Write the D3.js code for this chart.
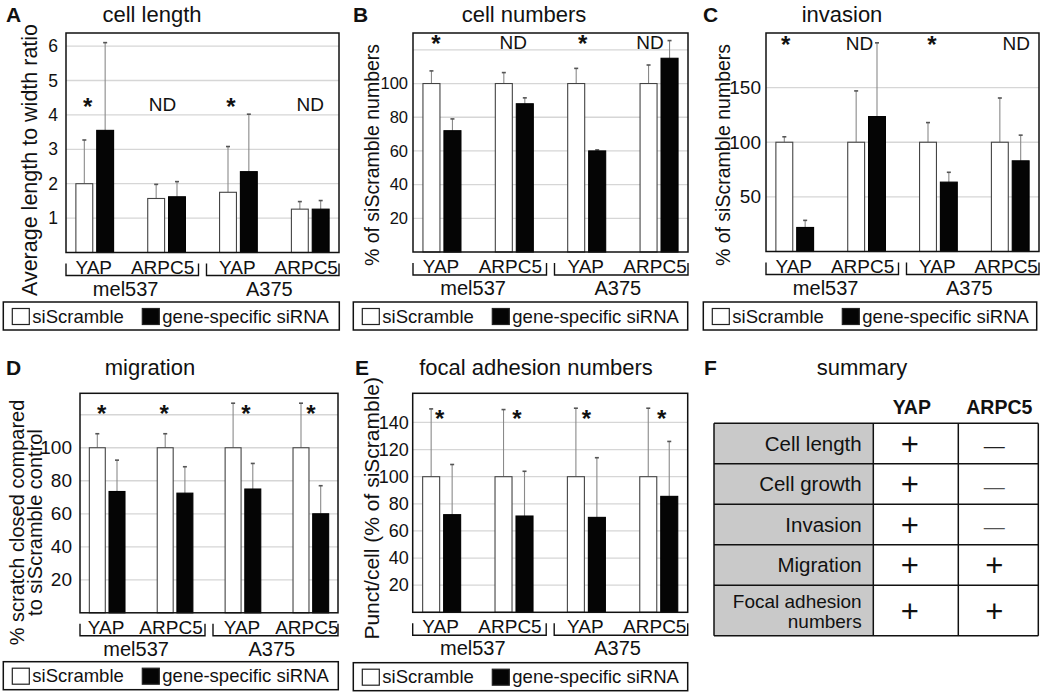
<!DOCTYPE html>
<html><head><meta charset="utf-8">
<script src="https://cdn.jsdelivr.net/npm/d3@7"></script>
<style>
body{margin:0;background:#fff}
svg{display:block;font-family:"Liberation Sans",Arial,Helvetica,sans-serif}
</style>
</head><body>
<svg id="fig" width="1044" height="696"></svg>
<script>
// ---------------- DATA ----------------
const groupLabels = ["YAP", "ARPC5", "YAP", "ARPC5"];
const cellLines = ["mel537", "A375"];
const seriesNames = ["siScramble", "gene-specific siRNA"];

// A: cell length
const lengthScramble = [2.0, 1.57, 1.75, 1.26];
const lengthScrambleErr = [3.27, 1.98, 3.08, 1.48];
const lengthSpecific = [3.55, 1.62, 2.35, 1.26];
const lengthSpecificErr = [6.1, 2.06, 4.02, 1.51];
const lengthMarks = ["*", "ND", "*", "ND"];
const lengthTicks = [1, 2, 3, 4, 5, 6];
const lengthGrid = [1, 2, 3, 4, 5, 6];

// B: cell numbers
const numbersScramble = [100, 100, 100, 100];
const numbersScrambleErr = [107.5, 106.5, 109, 111];
const numbersSpecific = [72, 88, 60, 115];
const numbersSpecificErr = [79, 91.5, 60.6, 125.5];
const numbersMarks = ["*", "ND", "*", "ND"];
const numbersTicks = [20, 40, 60, 80, 100];
const numbersGrid = [20, 40, 60, 80, 100, 120];

// C: invasion
const invasionScramble = [100, 100, 100, 100];
const invasionScrambleErr = [105, 147, 118, 140.5];
const invasionSpecific = [22, 123.5, 63.5, 83];
const invasionSpecificErr = [28.5, 191, 72.5, 106.5];
const invasionMarks = ["*", "ND", "*", "ND"];
const invasionTicks = [50, 100, 150];
const invasionGrid = [50, 100, 150];

// D: migration
const migrationScramble = [100, 100, 100, 100];
const migrationScrambleErr = [108.5, 108.5, 127, 127];
const migrationSpecific = [73.5, 72.5, 75, 60];
const migrationSpecificErr = [92.5, 88.5, 90.5, 77];
const migrationMarks = ["*", "*", "*", "*"];
const migrationTicks = [20, 40, 60, 80, 100];
const migrationGrid = [20, 40, 60, 80, 100, 120];

// E: focal adhesion numbers
const focalScramble = [100, 100, 100, 100];
const focalScrambleErr = [150, 149.5, 150.5, 150.5];
const focalSpecific = [72, 71, 70, 85.5];
const focalSpecificErr = [109, 104, 114, 126];
const focalMarks = ["*", "*", "*", "*"];
const focalTicks = [20, 40, 60, 80, 100, 120, 140];
const focalGrid = [20, 40, 60, 80, 100, 120, 140];

// F: summary
const summaryCols = ["YAP", "ARPC5"];
const summaryRows = [["Cell length"], ["Cell growth"], ["Invasion"], ["Migration"], ["Focal adhesion", "numbers"]];
const summaryYAP = ["+", "+", "+", "+", "+"];
const summaryARPC5 = ["—", "—", "—", "+", "+"];

// ---------------- LAYOUT ----------------
const FONT = '"Liberation Sans",Arial,Helvetica,sans-serif';
const panels = [
  {letter:"A", lx:6, title:"cell length", tx:152, ty:22, left:66, right:339, top:33, bottom:252.5, max:6.38,
   s0:lengthScramble, e0:lengthScrambleErr, s1:lengthSpecific, e1:lengthSpecificErr, marks:lengthMarks,
   ticks:lengthTicks, grid:lengthGrid, tickFont:17.5, tickGap:8,
   ylabel:["Average length to width ratio"], ylx:[30], yly:160, ylFont:21.5,
   markAt:4.3, markDx:[-7, -4, -7.5, 0], legX:3.3, legY:302, legW:336},
  {letter:"B", lx:353, title:"cell numbers", tx:524, ty:22, left:413, right:688, top:33, bottom:252, max:130,
   s0:numbersScramble, e0:numbersScrambleErr, s1:numbersSpecific, e1:numbersSpecificErr, marks:numbersMarks,
   ticks:numbersTicks, grid:numbersGrid, tickFont:16.5, tickGap:5,
   ylabel:["% of siScramble numbers"], ylx:[371.5], yly:155, ylFont:19.5,
   markAt:124.8, markDx:[-6, -1, -4, -9], legX:353.3, legY:302, legW:334.4},
  {letter:"C", lx:703, title:"invasion", tx:842, ty:22, left:766, right:1039, top:33, bottom:251.5, max:200,
   s0:invasionScramble, e0:invasionScrambleErr, s1:invasionSpecific, e1:invasionSpecificErr, marks:invasionMarks,
   ticks:invasionTicks, grid:invasionGrid, tickFont:19, tickGap:5,
   ylabel:["% of siScramble numbers"], ylx:[722.5], yly:155, ylFont:19.5,
   markAt:190.5, markDx:[-9, -7, -6.5, 6], legX:703.3, legY:302, legW:333.4},
  {letter:"D", lx:6, title:"migration", tx:150, ty:375, left:80, right:338, top:393.3, bottom:612.8, max:133,
   s0:migrationScramble, e0:migrationScrambleErr, s1:migrationSpecific, e1:migrationSpecificErr, marks:migrationMarks,
   ticks:migrationTicks, grid:migrationGrid, tickFont:19, tickGap:8,
   ylabel:["% scratch closed compared", "to siScramble control"], ylx:[16.5, 35], yly:522.5, ylFont:20,
   markAt:122, markDx:[-5.5, -11, 3, 0], legX:3.3, legY:661.7, legW:335},
  {letter:"E", lx:355, title:"focal adhesion numbers", tx:536, ty:375, left:412.7, right:687.7, top:393.3, bottom:612.3, max:161.5,
   s0:focalScramble, e0:focalScrambleErr, s1:focalSpecific, e1:focalSpecificErr, marks:focalMarks,
   ticks:focalTicks, grid:focalGrid, tickFont:18, tickGap:4,
   ylabel:["Punct/cell (% of siScramble)"], ylx:[371], yly:508.3, ylFont:21,
   markAt:143.8, markDx:[-2, 3, 0, 3], legX:353.3, legY:662.7, legW:334.4}
];

const svg = d3.select("#fig");
svg.append("rect").attr("width", 1044).attr("height", 696).attr("fill", "#fff");

function drawPanel(p) {
  const g = svg.append("g");
  const x = d3.scalePoint().domain(d3.range(groupLabels.length)).range([p.left, p.right]).padding(0.4);
  const y = d3.scaleLinear().domain([0, p.max]).range([p.bottom, p.top]);
  const step = x.step();
  const bw = step * 0.235, gap = step * 0.055;

  // panel letter + title
  g.append("text").attr("x", p.lx).attr("y", p.ty).attr("font-size", 21).attr("font-weight", "bold")
    .attr("fill", "#111").text(p.letter);
  g.append("text").attr("x", p.tx).attr("y", p.ty).attr("font-size", 22).attr("text-anchor", "middle")
    .attr("fill", "#111").text(p.title);

  // gridlines
  g.append("g").selectAll("line").data(p.grid).join("line")
    .attr("x1", p.left).attr("x2", p.right)
    .attr("y1", d => y(d)).attr("y2", d => y(d))
    .attr("stroke", "#d6d6d6").attr("stroke-width", 1.3);

  // y axis labels
  const ax = g.append("g").attr("transform", `translate(${p.left},0)`)
    .call(d3.axisLeft(y).tickValues(p.ticks).tickSize(0).tickPadding(p.tickGap).tickFormat(d3.format("d")));
  ax.select(".domain").remove();
  ax.attr("font-family", FONT).attr("font-size", p.tickFont);
  ax.selectAll("text").attr("fill", "#111");

  // y title
  p.ylabel.forEach((line, i) => {
    g.append("text")
      .attr("transform", `translate(${p.ylx[i]},${p.yly}) rotate(-90)`)
      .attr("text-anchor", "middle").attr("dominant-baseline", "central")
      .attr("font-size", p.ylFont).attr("fill", "#111").text(line);
  });

  // bars
  const series = [
    {vals: p.s0, errs: p.e0, fill: "#fff", stroke: "#444", off: -gap / 2 - bw},
    {vals: p.s1, errs: p.e1, fill: "#050505", stroke: "#000", off: gap / 2}
  ];
  series.forEach(s => {
    const sg = g.append("g");
    const d = s.vals.map((v, i) => ({i, v, e: s.errs[i]}));
    sg.selectAll("line.err").data(d).join("line").attr("class", "err")
      .attr("x1", e => x(e.i) + s.off + bw / 2).attr("x2", e => x(e.i) + s.off + bw / 2)
      .attr("y1", e => y(e.v)).attr("y2", e => y(e.e))
      .attr("stroke", "#8a8a8a").attr("stroke-width", 1.1);
    sg.selectAll("line.cap").data(d).join("line").attr("class", "cap")
      .attr("x1", e => x(e.i) + s.off + bw / 2 - 2).attr("x2", e => x(e.i) + s.off + bw / 2 + 2)
      .attr("y1", e => y(e.e)).attr("y2", e => y(e.e))
      .attr("stroke", "#555").attr("stroke-width", 1.6);
    sg.selectAll("rect").data(d).join("rect")
      .attr("x", e => x(e.i) + s.off).attr("width", bw)
      .attr("y", e => y(e.v)).attr("height", e => y(0) - y(e.v))
      .attr("fill", s.fill).attr("stroke", s.stroke).attr("stroke-width", 1.1);
  });

  // frame
  g.append("rect").attr("x", p.left).attr("y", p.top)
    .attr("width", p.right - p.left).attr("height", p.bottom - p.top)
    .attr("fill", "none").attr("stroke", "#111").attr("stroke-width", 1.5);

  // significance marks
  g.append("g").selectAll("text").data(p.marks).join("text")
    .attr("x", (m, i) => x(i) + p.markDx[i])
    .attr("y", y(p.markAt))
    .attr("dy", m => m === "*" ? "0.42em" : "0.36em")
    .attr("text-anchor", "middle")
    .attr("font-size", m => m === "*" ? 24 : 19)
    .attr("font-weight", m => m === "*" ? "bold" : "normal")
    .attr("fill", "#111").text(m => m);

  // brackets
  const mid = (p.left + p.right) / 2;
  const b0 = p.bottom + 11, b1 = p.bottom + 23;
  g.append("path")
    .attr("d", `M${p.left},${b0}V${b1}H${mid - 4}V${b0}M${mid + 4},${b0}V${b1}H${p.right}V${b0}`)
    .attr("fill", "none").attr("stroke", "#111").attr("stroke-width", 1.4);
  g.append("g").selectAll("text").data(groupLabels).join("text")
    .attr("x", (d, i) => x(i) + (i % 2 ? -4 : -1)).attr("y", p.bottom + 21)
    .attr("text-anchor", "middle").attr("font-size", 19).attr("fill", "#111").text(d => d);
  g.append("g").selectAll("text").data(cellLines).join("text")
    .attr("x", (d, j) => (x(2 * j) + x(2 * j + 1)) / 2 - 5).attr("y", p.bottom + 43)
    .attr("text-anchor", "middle").attr("font-size", 20).attr("fill", "#111").text(d => d);

  // legend
  const lg = g.append("g").attr("transform", `translate(${p.legX},${p.legY})`);
  lg.append("rect").attr("width", p.legW).attr("height", 28)
    .attr("fill", "#fff").attr("stroke", "#111").attr("stroke-width", 1.5);
  const legItems = [{name: seriesNames[0], fill: "#fff", dx: 9}, {name: seriesNames[1], fill: "#050505", dx: 139}];
  legItems.forEach(it => {
    lg.append("rect").attr("x", it.dx).attr("y", 6.5).attr("width", 17).attr("height", 16)
      .attr("fill", it.fill).attr("stroke", "#222").attr("stroke-width", 1.2);
    lg.append("text").attr("x", it.dx + 20).attr("y", 20.7).attr("font-size", 18.5)
      .attr("fill", "#111").text(it.name);
  });
}

panels.forEach(drawPanel);

// ---------------- F: summary table ----------------
(function () {
  const g = svg.append("g");
  g.append("text").attr("x", 704).attr("y", 375).attr("font-size", 21).attr("font-weight", "bold")
    .attr("fill", "#111").text("F");
  g.append("text").attr("x", 862).attr("y", 375).attr("font-size", 22).attr("text-anchor", "middle")
    .attr("fill", "#111").text("summary");

  const colX = [714, 873.3, 958.3, 1038.3];
  const top = 423.3;
  const rowH = summaryRows.map(r => 40.5 + (r.length - 1) * 10);
  const rowY = [top];
  rowH.forEach((h, i) => rowY.push(rowY[i] + h));
  const bottom = rowY[rowY.length - 1];

  g.append("rect").attr("x", colX[0]).attr("y", top).attr("width", colX[1] - colX[0]).attr("height", bottom - top)
    .attr("fill", "#c9c9c9");
  summaryCols.forEach((c, j) => {
    g.append("text").attr("x", (colX[j + 1] + colX[j + 2]) / 2 - (j === 0 ? 4 : -1)).attr("y", 414)
      .attr("text-anchor", "middle").attr("font-size", 19.5).attr("font-weight", "bold")
      .attr("fill", "#111").text(c);
  });
  summaryRows.forEach((lines, i) => {
    const cy = (rowY[i] + rowY[i + 1]) / 2;
    const n = lines.length;
    lines.forEach((ln, k) => {
      g.append("text").attr("x", 861.7).attr("y", cy + 7 + (k - (n - 1) / 2) * 20)
        .attr("text-anchor", "end").attr("font-size", n > 1 ? 19 : 20.5).attr("fill", "#111").text(ln);
    });
    [summaryYAP[i], summaryARPC5[i]].forEach((sym, j) => {
      const isPlus = sym === "+";
      g.append("text").attr("x", (colX[j + 1] + colX[j + 2]) / 2 - (j === 0 ? 6 : 4))
        .attr("y", cy).attr("dy", isPlus ? "0.36em" : "0.45em")
        .attr("text-anchor", "middle")
        .attr("font-size", isPlus ? 31 : 21)
        .attr("fill", isPlus ? "#111" : (i === 0 ? "#222" : "#555")).text(sym);
    });
  });
  rowY.forEach(yv => {
    g.append("line").attr("x1", colX[0]).attr("x2", colX[3]).attr("y1", yv).attr("y2", yv)
      .attr("stroke", "#111").attr("stroke-width", 1.5);
  });
  colX.forEach(xv => {
    g.append("line").attr("x1", xv).attr("x2", xv).attr("y1", top).attr("y2", bottom)
      .attr("stroke", "#111").attr("stroke-width", 1.5);
  });
})();
</script>
</body></html>
